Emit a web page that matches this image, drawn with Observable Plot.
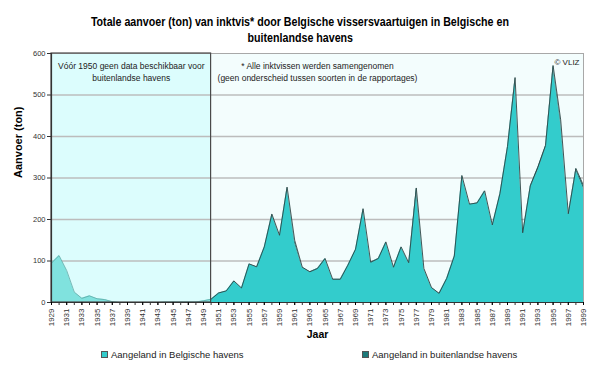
<!DOCTYPE html>
<html><head><meta charset="utf-8">
<script src="https://cdn.jsdelivr.net/npm/d3@7"></script>
<script src="https://cdn.jsdelivr.net/npm/@observablehq/plot@0.6"></script>
<style>
body{margin:0;background:#fff;font-family:"Liberation Sans",Arial,sans-serif;}
#wrap{width:600px;height:368px;position:relative;overflow:hidden}
#title{height:46px;box-sizing:border-box;padding-top:14px;text-align:center;font-weight:bold;font-size:13px;line-height:16px;color:#000}
#title span{display:inline-block;transform:scaleX(0.82);transform-origin:50% 50%;white-space:nowrap}
#legend{position:relative;height:23px;font-size:9.5px;color:#222}
.li{position:absolute;top:4px;display:flex;align-items:center;white-space:nowrap}
.sw{width:7px;height:7px;border:1px solid #555;margin-right:3px;box-sizing:border-box}
</style></head>
<body><div id="wrap">
<div id="title"><span>Totale aanvoer (ton) van inktvis* door Belgische vissersvaartuigen in Belgische en</span><br><span>buitenlandse havens</span></div>
<div id="chart"></div>
<div id="legend"></div>
</div>
<script>
const years = d3.range(1929, 2000);
const seriesNames = ["Aangeland in Belgische havens", "Aangeland in buitenlandse havens"];
// Belgian ports, tons (1929–1999)
const belgian = [
  95,113,77,25,10,16,9,7,2,0,        // 1929–1938
  0,0,0,0,0,1,1,1,1,1,               // 1939–1948
  4,8,22,28,51,35,92,85,133,211,     // 1949–1958
  161,275,142,83,73,81,105,55,55,89, // 1959–1968
  127,224,96,105,145,84,133,95,262,81, // 1969–1978
  35,21,57,111,304,236,239,268,186,260, // 1979–1988
  374,537,167,278,318,372,563,430,212,318, // 1989–1998
  274                                 // 1999
];
// Foreign ports, tons (no data before 1950)
const foreign = [
  null,null,null,null,null,null,null,null,null,null,
  null,null,null,null,null,null,null,null,null,null,
  null,0,1,0,1,0,1,1,1,2,
  1,3,8,2,1,1,1,1,1,1,
  1,2,1,1,1,1,1,1,14,1,
  1,1,1,1,2,1,1,1,1,2,
  2,5,1,3,8,6,8,10,2,5,
  8
];
const yTicks = [0,100,200,300,400,500,600];
const gridTicks = [100,200,300,400,500];
const xLabelYears = d3.range(1929, 2000, 2);
const periods = [{from:1929, to:1950}, {from:1950, to:1999}];
const notes = ["Vóór 1950 geen data beschikbaar voor\nbuitenlandse havens",
               "* Alle inktvissen werden samengenomen\n(geen onderscheid tussen soorten in de rapportages)",
               "© VLIZ"];

const rows = years.map((year, i) => ({
  year, bel: belgian[i], frn: foreign[i] ?? 0, total: belgian[i] + (foreign[i] ?? 0)
}));
const pre = rows.filter(d => d.year <= 1950);
const post = rows.filter(d => d.year >= 1950);

const font = {fontFamily: "Liberation Sans, Arial, sans-serif"};
const chart = Plot.plot({
  width: 600, height: 299,
  marginLeft: 51, marginRight: 17, marginTop: 7, marginBottom: 43,
  style: {...font, background: "transparent", overflow: "visible"},
  x: {domain: [1929, 1999], label: null},
  y: {domain: [0, 600], label: null},
  marks: [
    Plot.rect([periods[1]], {x1: "from", x2: "to", fill: "#f3fdfd"}),
    Plot.rect([periods[0]], {x1: "from", x2: "to", fill: "#dcfdfd"}),
    Plot.gridY(gridTicks, {stroke: "#bcbcbc", strokeOpacity: 1, strokeWidth: 1.5}),
    // pre-1950 (Belgian only)
    Plot.areaY(pre, {x: "year", y1: 0, y2: "bel", fill: "#80e2de"}),
    Plot.lineY(pre, {x: "year", y: "bel", stroke: "#5fa9a6", strokeWidth: 0.8}),
    // post-1950 stacked
    Plot.areaY(post, {x: "year", y1: 0, y2: "bel", fill: "#33cccc"}),
    Plot.areaY(post, {x: "year", y1: "bel", y2: "total", fill: "#1d7a7a"}),
    Plot.lineY(post, {x: "year", y: "total", stroke: "#2c4545", strokeWidth: 0.9}),
    Plot.frame({stroke: "#a8a8a8"}),
    Plot.rect([periods[0]], {x1: "from", x2: "to", fill: "none", stroke: "#4a4a4a", strokeWidth: 1.2}),
    Plot.ruleX([years[0]], {stroke: "#333", strokeWidth: 1.2}),
    Plot.ruleY([0], {stroke: "#333", strokeWidth: 1.2}),
    Plot.axisY(yTicks, {tickSize: 4, tickPadding: 2, fontSize: 7.5, fill: "#333", stroke: "#333", tickFormat: d => String(d)}),
    Plot.axisX(years, {tickSize: 3, text: null, stroke: "#333"}),
    Plot.axisX(xLabelYears, {tickSize: 3, tickPadding: 3, tickRotate: -90, fontSize: 8, fill: "#333", tickFormat: d => String(d)}),
    Plot.text([notes[0]], {x: (periods[0].from + periods[0].to) / 2, frameAnchor: "top", dy: 6, text: d => d, fontSize: 8.5, fill: "#222", lineHeight: 1.5, lineAnchor: "top"}),
    Plot.text([notes[1]], {frameAnchor: "top-left", dx: 266, dy: 6, text: d => d, fontSize: 8.5, fill: "#222", lineHeight: 1.5, lineAnchor: "top", textAnchor: "middle"}),
    Plot.text([notes[2]], {frameAnchor: "top-right", dx: -4, dy: 6, text: d => d, fontSize: 8, fill: "#222", lineAnchor: "top"}),
    Plot.text(["Aanvoer (ton)"], {frameAnchor: "left", dx: -33, rotate: -90, text: d => d, fontSize: 11, fontWeight: "bold", fill: "#000"}),
    Plot.text(["Jaar"], {frameAnchor: "bottom", dy: 35, text: d => d, fontSize: 10.5, fontWeight: "bold", fill: "#000"})
  ]
});
document.getElementById("chart").appendChild(chart);

const legendColors = ["#33cccc", "#1d7a7a"];
const legendX = [101, 362];
const lg = document.getElementById("legend");
seriesNames.forEach((name, i) => {
  const item = document.createElement("div");
  item.className = "li";
  item.style.left = legendX[i] + "px";
  item.innerHTML = `<span class="sw" style="background:${legendColors[i]}"></span><span>${name}</span>`;
  lg.appendChild(item);
});
</script>
</body></html>
